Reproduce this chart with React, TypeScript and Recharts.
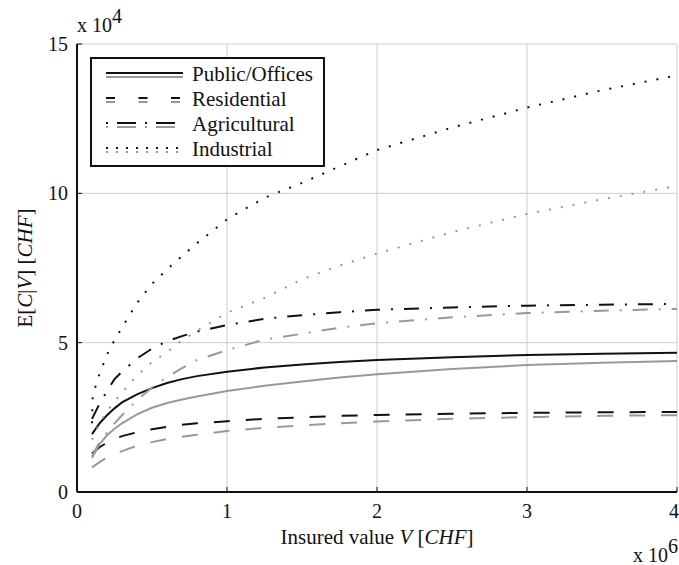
import React from 'react';
import { LineChart, Line, XAxis, YAxis, CartesianGrid, Legend } from 'recharts';

// insured value V, x 10^6 CHF
const xValues = [0.1, 0.15, 0.2, 0.25, 0.3, 0.4, 0.5, 0.6, 0.7, 0.8, 1.0, 1.25, 1.5, 1.75, 2.0, 2.5, 3.0, 3.5, 4.0];
const xValuesIndustrial = [0.1, 0.105, 0.15, 0.2, 0.25, 0.3, 0.4, 0.5, 0.6, 0.7, 0.8, 1.0, 1.25, 1.5, 1.75, 2.0, 2.5, 3.0, 3.5, 4.0];

// E[C|V], x 10^4 CHF  (black = first model, gray = second model)
const publicBlack = [1.94, 2.3, 2.57, 2.8, 3.0, 3.27, 3.48, 3.65, 3.78, 3.88, 4.03, 4.17, 4.27, 4.35, 4.42, 4.51, 4.59, 4.63, 4.66];
const publicGray = [1.15, 1.6, 1.9, 2.12, 2.3, 2.6, 2.82, 2.98, 3.1, 3.2, 3.38, 3.56, 3.7, 3.83, 3.94, 4.12, 4.25, 4.33, 4.39];
const residentialBlack = [1.29, 1.5, 1.65, 1.78, 1.87, 2.0, 2.1, 2.18, 2.25, 2.3, 2.37, 2.45, 2.5, 2.55, 2.58, 2.62, 2.65, 2.67, 2.68];
const residentialGray = [0.82, 1.0, 1.15, 1.27, 1.37, 1.55, 1.67, 1.77, 1.85, 1.92, 2.04, 2.15, 2.23, 2.3, 2.36, 2.45, 2.51, 2.55, 2.57];
const agriculturalBlack = [2.45, 2.95, 3.38, 3.78, 4.03, 4.47, 4.8, 5.05, 5.22, 5.37, 5.59, 5.8, 5.92, 6.02, 6.1, 6.18, 6.24, 6.27, 6.3];
const agriculturalGray = [1.2, 1.67, 1.98, 2.3, 2.57, 3.08, 3.5, 3.85, 4.15, 4.42, 4.75, 5.1, 5.3, 5.5, 5.65, 5.85, 5.99, 6.07, 6.13];
const industrialBlack = [2.3, 3.25, 3.95, 4.6, 5.09, 5.5, 6.33, 6.97, 7.45, 7.9, 8.33, 9.13, 9.85, 10.35, 10.9, 11.45, 12.2, 12.87, 13.45, 13.95];
const industrialGray = [1.75, 2.3, 2.7, 3.03, 3.33, 3.9, 4.35, 4.68, 5.08, 5.4, 6.0, 6.5, 7.12, 7.58, 7.98, 8.7, 9.31, 9.8, 10.25];

const xTicks = [0, 1, 2, 3, 4];
const yTicks = [0, 5, 10, 15];
const categories = ['Public/Offices', 'Residential', 'Agricultural', 'Industrial'];

const BLACK = '#111';
const GRAY = '#999';
const FONT = '"Liberation Serif", monospace';

const W = 679;
const H = 565;
const PLOT_LEFT = 77;
const PLOT_TOP = 44;
const PLOT_W = 600;
const PLOT_H = 448;

const toPoints = (xs: number[], ys: number[]) => ys.map((y, i) => ({ x: xs[i], y }));

const plotDash = ['', '16 16', '15 11 2 11', '2 10'];
const legendDash = ['', '9 23.5', '2 9 19 9', '2 8'];

const series = [
  { name: categories[0], dash: plotDash[0], black: toPoints(xValues, publicBlack), gray: toPoints(xValues, publicGray) },
  { name: categories[1], dash: plotDash[1], black: toPoints(xValues, residentialBlack), gray: toPoints(xValues, residentialGray) },
  { name: categories[2], dash: plotDash[2], black: toPoints(xValues, agriculturalBlack), gray: toPoints(xValues, agriculturalGray) },
  { name: categories[3], dash: plotDash[3], black: toPoints(xValuesIndustrial, industrialBlack), gray: toPoints(xValues, industrialGray) },
];

const tickStyle = { fill: BLACK, fontSize: 20, fontFamily: FONT };

const LegendBox = () => (
  <div
    style={{
      width: 235,
      height: 110,
      boxSizing: 'border-box',
      border: `2px solid ${BLACK}`,
      background: '#fff',
      paddingTop: 3,
      fontFamily: FONT,
      fontSize: 21,
      color: BLACK,
    }}
  >
    {categories.map((c, i) => (
      <div key={c} style={{ display: 'flex', alignItems: 'center', height: 25, lineHeight: '25px' }}>
        <svg width={100} height={12} style={{ flex: 'none' }}>
          <line x1={14} x2={91} y1={4} y2={4} stroke={BLACK} strokeWidth={2} strokeDasharray={legendDash[i]} />
          <line x1={14} x2={91} y1={8} y2={8} stroke={GRAY} strokeWidth={2} strokeDasharray={legendDash[i]} />
        </svg>
        <span style={{ whiteSpace: 'nowrap' }}>{c}</span>
      </div>
    ))}
  </div>
);

export default function App() {
  return (
    <div style={{ position: 'absolute', left: 0, top: 0, width: W, height: H, background: '#fff', fontFamily: FONT }}>
      <LineChart width={W} height={H} margin={{ top: PLOT_TOP, right: 2, bottom: 43, left: 17 }} style={{ fontFamily: FONT }}>
        <CartesianGrid stroke="#cccccc" strokeWidth={1} />
        <XAxis
          type="number"
          dataKey="x"
          domain={[0, 4]}
          ticks={xTicks}
          height={30}
          tick={tickStyle}
          tickSize={-5}
          tickMargin={17}
          tickLine={{ stroke: BLACK }}
          axisLine={{ stroke: BLACK, strokeWidth: 2 }}
          allowDataOverflow
        />
        <XAxis
          xAxisId="top"
          orientation="top"
          type="number"
          dataKey="x"
          domain={[0, 4]}
          ticks={xTicks}
          height={0}
          tick={false}
          tickSize={-5}
          tickLine={{ stroke: BLACK }}
          axisLine={{ stroke: BLACK, strokeWidth: 2 }}
        />
        <YAxis
          type="number"
          domain={[0, 15]}
          ticks={yTicks}
          width={60}
          tick={tickStyle}
          tickSize={-5}
          tickMargin={14}
          tickLine={{ stroke: BLACK }}
          axisLine={{ stroke: BLACK, strokeWidth: 2 }}
          allowDataOverflow
        />
        <YAxis
          yAxisId="right"
          orientation="right"
          type="number"
          domain={[0, 15]}
          ticks={yTicks}
          width={0}
          tick={false}
          tickSize={-5}
          tickLine={{ stroke: BLACK }}
          axisLine={{ stroke: BLACK, strokeWidth: 2 }}
        />
        {series.map((s) => (
          <Line
            key={s.name + '-black'}
            data={s.black}
            dataKey="y"
            type="linear"
            stroke={BLACK}
            strokeWidth={2}
            strokeDasharray={s.dash || undefined}
            dot={false}
            activeDot={false}
            legendType="none"
            isAnimationActive={false}
          />
        ))}
        {series.map((s) => (
          <Line
            key={s.name + '-gray'}
            data={s.gray}
            dataKey="y"
            type="linear"
            stroke={GRAY}
            strokeWidth={2}
            strokeDasharray={s.dash || undefined}
            dot={false}
            activeDot={false}
            legendType="none"
            isAnimationActive={false}
          />
        ))}
        <Legend
          layout="vertical"
          verticalAlign="middle"
          align="center"
          content={() => <LegendBox />}
          wrapperStyle={{ left: 90, top: 57, width: 235, height: 110 }}
        />
      </LineChart>
      <svg
        width={W}
        height={H}
        style={{ position: 'absolute', left: 0, top: 0, pointerEvents: 'none', fontFamily: FONT }}
        fill={BLACK}
      >
        <text x={PLOT_LEFT + PLOT_W / 2} y={544} fontSize={21} textAnchor="middle">
          Insured value <tspan fontStyle="italic">V</tspan> [<tspan fontStyle="italic">CHF</tspan>]
        </text>
        <text
          x={32}
          y={PLOT_TOP + PLOT_H / 2}
          fontSize={21}
          textAnchor="middle"
          transform={`rotate(-90 32 ${PLOT_TOP + PLOT_H / 2})`}
        >
          E[<tspan fontStyle="italic">C</tspan>|<tspan fontStyle="italic">V</tspan>] [<tspan fontStyle="italic">CHF</tspan>]
        </text>
        <text x={77} y={32} fontSize={20}>
          x 10<tspan dy={-9}>4</tspan>
        </text>
        <text x={633} y={562} fontSize={20}>
          x 10<tspan dy={-9}>6</tspan>
        </text>
      </svg>
    </div>
  );
}
